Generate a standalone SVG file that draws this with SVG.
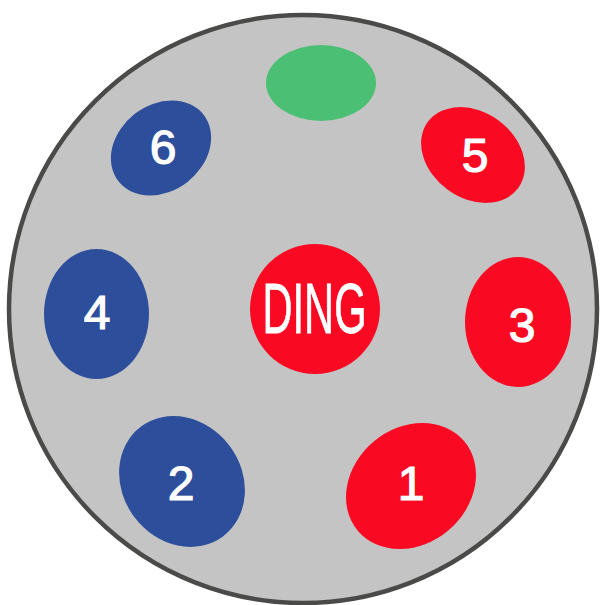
<svg xmlns="http://www.w3.org/2000/svg" width="600" height="605" viewBox="0 0 600 605">
  <style>
    .blue { fill: #2d4e9a; }
    .red { fill: #f90a22; }
    .green { fill: #4bc074; }
    .num { font-family: "Liberation Sans", Arial, sans-serif; font-size: 48px; fill: #ffffff; stroke: #ffffff; stroke-width: 1.2; text-anchor: middle; }
    .ding { font-family: "Liberation Sans", Arial, sans-serif; font-size: 70px; fill: #ffffff; stroke: #ffffff; stroke-width: 0.8; text-anchor: middle; }
  </style>
  <rect x="0" y="0" width="600" height="605" fill="#ffffff"/>
  <g id="plate">
    <circle cx="303" cy="309" r="294" fill="#c4c4c4" stroke="#4a4a48" stroke-width="4.5"/>
  </g>
  <g id="connectors"></g>
  <g id="node-top">
    <ellipse class="green" cx="321" cy="83" rx="55" ry="38"/>
  </g>
  <g id="node-6">
    <ellipse class="blue" cx="161" cy="148" rx="54" ry="43" transform="rotate(-38 161 148)"/>
    <text class="num" x="163" y="164">6</text>
  </g>
  <g id="node-5">
    <ellipse class="red" cx="473" cy="155" rx="56" ry="43" transform="rotate(36 473 155)"/>
    <text class="num" x="475" y="172">5</text>
  </g>
  <g id="node-4">
    <ellipse class="blue" cx="96.5" cy="314" rx="52.5" ry="65"/>
    <text class="num" x="97" y="329">4</text>
  </g>
  <g id="node-ding">
    <circle class="red" cx="315" cy="309" r="65"/>
    <text class="ding" x="314.5" y="333" textLength="104" lengthAdjust="spacingAndGlyphs">DING</text>
  </g>
  <g id="node-3">
    <ellipse class="red" cx="518" cy="322" rx="53" ry="65"/>
    <text class="num" x="522" y="342">3</text>
  </g>
  <g id="node-2">
    <ellipse class="blue" cx="182" cy="481.5" rx="68.5" ry="59.5" transform="rotate(53 182 481.5)"/>
    <text class="num" x="181" y="500">2</text>
  </g>
  <g id="node-1">
    <ellipse class="red" cx="411" cy="486" rx="69.5" ry="58" transform="rotate(-40 411 486)"/>
    <text class="num" x="411" y="500">1</text>
  </g>
</svg>
